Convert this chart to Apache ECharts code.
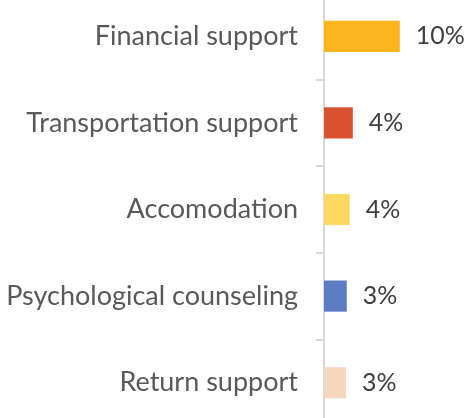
<!DOCTYPE html>
<html>
<head>
<meta charset="utf-8">
<script src="https://cdn.jsdelivr.net/npm/echarts@6/dist/echarts.min.js"></script>
<style>
  html, body { margin: 0; padding: 0; background: #fff; overflow: hidden; }
  /* plot area runs past the top and bottom edges of the picture */
  #chart { width: 468px; height: 433px; margin-top: -7px; }
</style>
</head>
<body>
<div id="chart"></div>
<script>
var categories = ['Financial support', 'Transportation support', 'Accomodation', 'Psychological counseling', 'Return support'];
var values = [10.0, 3.8, 3.4, 3.0, 2.9];
var labels = ['10%', '4%', '4%', '3%', '3%'];
var colors = ['#FDB51F', '#D9512F', '#FED864', '#5B7CC3', '#F7D6C0'];

var myChart = echarts.init(document.getElementById('chart'));

var option = {
    backgroundColor: '#fff',
    animation: false,
    grid: {
        left: 324,
        right: 0,
        top: 0,
        bottom: 0,
        containLabel: false,
        outerBoundsMode: 'none'
    },
    xAxis: {
        type: 'value',
        min: 0,
        max: 19,
        show: false
    },
    yAxis: {
        type: 'category',
        inverse: true,
        data: categories,
        axisLine: { show: true, lineStyle: { color: '#d9d9d9', width: 2 } },
        axisTick: { show: true, length: 8, lineStyle: { color: '#d9d9d9', width: 2 } },
        axisLabel: {
            margin: 26,
            color: '#595959',
            fontFamily: 'Lato',
            fontSize: 27
        }
    },
    series: [{
        type: 'bar',
        barWidth: '36%',
        data: values.map(function (v, i) {
            return { value: v, itemStyle: { color: colors[i] } };
        }),
        label: {
            show: true,
            position: 'right',
            distance: 16,
            color: '#404040',
            fontFamily: 'Lato',
            fontSize: 25,
            formatter: function (p) { return labels[p.dataIndex]; }
        }
    }]
};

myChart.setOption(option);
</script>
</body>
</html>
